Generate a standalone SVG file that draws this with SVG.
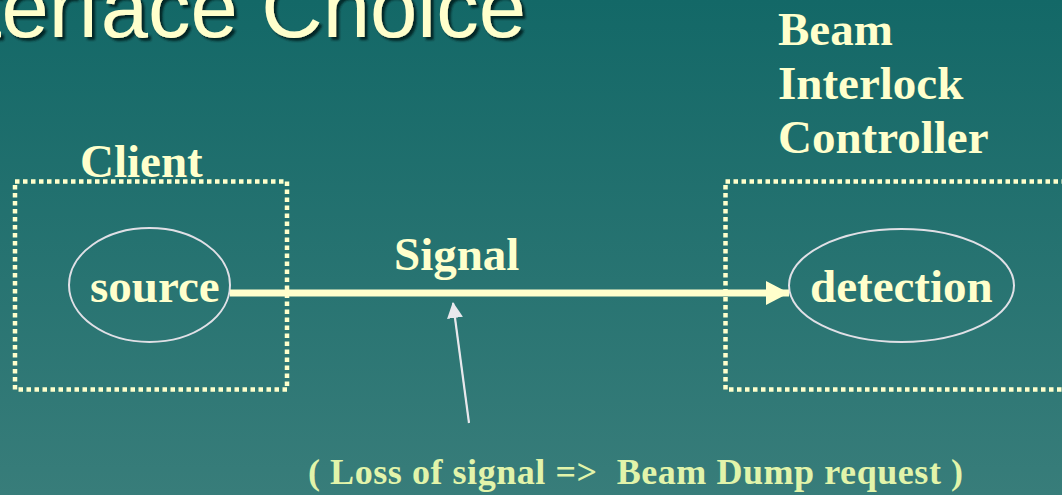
<svg xmlns="http://www.w3.org/2000/svg" width="1062" height="495" viewBox="0 0 1062 495">
<defs>
<linearGradient id="bg" x1="0" y1="0" x2="0" y2="1">
<stop offset="0" stop-color="#136867"/>
<stop offset="1" stop-color="#387D7A"/>
</linearGradient>
<filter id="shadow" x="-10%" y="-50%" width="120%" height="200%">
<feDropShadow dx="3" dy="3" stdDeviation="0.8" flood-color="#051E1E" flood-opacity="0.9"/>
</filter>
<marker id="head" markerUnits="userSpaceOnUse" markerWidth="24" markerHeight="24" refX="23" refY="12" orient="auto">
<path d="M0,0 L23,12 L0,24 Z" fill="#FFFFCC"/>
</marker>
<marker id="ptr" markerUnits="userSpaceOnUse" markerWidth="16" markerHeight="16" refX="15" refY="8" orient="auto">
<path d="M0,0 L16,8 L0,16 Z" fill="#E8E8EC"/>
</marker>
</defs>
<style>
.lbl{font-family:"Liberation Serif","Times New Roman",serif;font-weight:bold;fill:#FFFFCC;font-size:47px}
.box{fill:none;stroke:#FFFFCC;stroke-width:4.5;stroke-dasharray:4.5 3.5}
.ell{fill:none;stroke:#E0E0E6;stroke-width:2}
.title{font-family:"Liberation Sans",Arial,sans-serif;font-size:85px;fill:#FFFFCC}
</style>
<rect width="1062" height="495" fill="url(#bg)"/>
<g id="title">
<text class="title" x="-93" y="37" filter="url(#shadow)">Interface Choice</text>
</g>
<g id="client">
<rect class="box" x="15" y="181.5" width="272" height="208"/>
<text class="lbl" x="80" y="177">Client</text>
</g>
<g id="bic">
<rect class="box" x="725.5" y="181.5" width="360" height="208"/>
<text class="lbl" x="778" y="45" font-size="48">Beam</text>
<text class="lbl" x="778" y="99" font-size="48">Interlock</text>
<text class="lbl" x="778" y="153" font-size="48">Controller</text>
</g>
<g id="source">
<ellipse class="ell" cx="149.5" cy="285" rx="80.5" ry="57"/>
<text class="lbl" x="90" y="302" font-size="46">source</text>
</g>
<g id="detection">
<ellipse class="ell" cx="901.5" cy="285.5" rx="112.5" ry="56.5"/>
<text class="lbl" x="810" y="302">detection</text>
</g>
<g id="connectors">
<line x1="230" y1="293" x2="789" y2="293" stroke="#FFFFCC" stroke-width="7" marker-end="url(#head)"/>
<line x1="469" y1="423" x2="453" y2="303" stroke="#E8E8EC" stroke-width="2.2" marker-end="url(#ptr)"/>
</g>
<g id="labels">
<text class="lbl" x="394" y="270">Signal</text>
<text x="308" y="484" font-family="Liberation Serif,'Times New Roman',serif" font-weight="bold" font-size="36" fill="#E2F4AA" textLength="655" xml:space="preserve">( Loss of signal =&gt;  Beam Dump request )</text>
</g>
</svg>
